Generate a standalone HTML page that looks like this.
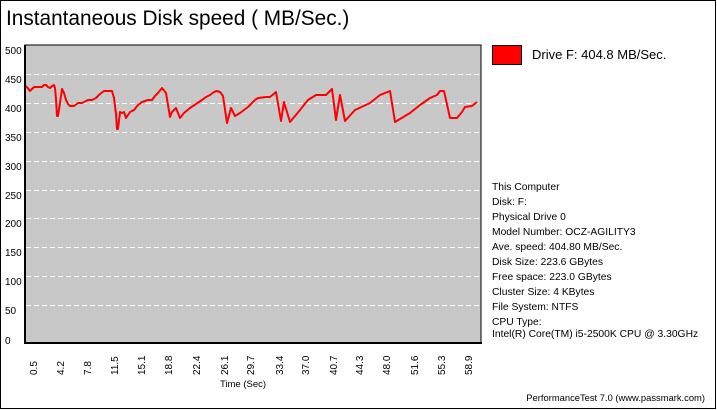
<!DOCTYPE html>
<html><head><meta charset="utf-8"><style>
html,body{margin:0;padding:0;background:#fff;}
svg{display:block;font-family:"Liberation Sans",Arial,sans-serif;}
</style></head><body>
<svg width="717" height="410" viewBox="0 0 717 410" xmlns="http://www.w3.org/2000/svg">
<rect x="0.5" y="0.5" width="715" height="408" fill="#fff" stroke="#000" stroke-width="1"/>
<text x="6" y="25" font-size="20.8" fill="#000">Instantaneous Disk speed ( MB/Sec.)</text>
<rect x="25" y="45" width="456" height="298" fill="#c8c8c8"/>
<g stroke="#fff" stroke-width="1" stroke-dasharray="5,3">
<line x1="26" y1="74.5" x2="481" y2="74.5"/>
<line x1="26" y1="103.5" x2="481" y2="103.5"/>
<line x1="26" y1="132.5" x2="481" y2="132.5"/>
<line x1="26" y1="161.5" x2="481" y2="161.5"/>
<line x1="26" y1="190.5" x2="481" y2="190.5"/>
<line x1="26" y1="218.5" x2="481" y2="218.5"/>
<line x1="26" y1="247.5" x2="481" y2="247.5"/>
<line x1="26" y1="276.5" x2="481" y2="276.5"/>
<line x1="26" y1="305.5" x2="481" y2="305.5"/>
</g>
<polyline fill="none" stroke="#f00" stroke-width="2" stroke-linejoin="round" points="26,86 30,91 34,87 42,87 44,85 46,85 48,87 50,88 52,86 54,85 55,88 56,99 57,116 58,116 60,103 62,89 64,93 66,100 68,104 70,106 74,106 78,103 82,103 86,101 88,100 92,100 96,98 100,94 104,91 112,91 114,98 116,114 117,129 118,129 120,112 122,113 124,112 126,118 130,112 134,110 138,105 142,102 148,100 152,100 155,96 158,93 162,88 166,93 170,117 172,112 176,108 180,118 184,113 190,108 196,104 202,100 206,97 210,95 214,92 217,91 220,92 223,96 227,123 231,108 235,116 240,113 248,107 255,100 258,98 266,97 270,97 276,92 281,121 284,102 290,122 300,110 308,100 316,95 326,95 332,89 336,120 340,95 345,121 355,110 370,103 380,95 390,91 395,122 400,119 410,113 420,105 430,98 437,95 440,91 444,91 450,118 457,118 462,112 465,107 472,106 477,102"/>
<rect x="25" y="45" width="456" height="298" fill="none" stroke="#000" stroke-width="1"/>
<line x1="25" y1="45" x2="25" y2="344" stroke="#000" stroke-width="2"/>
<line x1="24" y1="343" x2="482" y2="343" stroke="#000" stroke-width="2"/>
<g font-size="10" fill="#000">
<text x="5" y="54">500</text>
<text x="5" y="83">450</text>
<text x="5" y="112">400</text>
<text x="5" y="141">350</text>
<text x="5" y="170">300</text>
<text x="5" y="199">250</text>
<text x="5" y="227">200</text>
<text x="5" y="256">150</text>
<text x="5" y="285">100</text>
<text x="5" y="314">50</text>
<text x="5" y="344">0</text>
</g>
<g font-size="10" fill="#000" text-anchor="start">
<text transform="translate(37,375) rotate(-90)">0.5</text>
<text transform="translate(64,375) rotate(-90)">4.2</text>
<text transform="translate(91,375) rotate(-90)">7.8</text>
<text transform="translate(118,375) rotate(-90)">11.5</text>
<text transform="translate(145,375) rotate(-90)">15.1</text>
<text transform="translate(172,375) rotate(-90)">18.8</text>
<text transform="translate(200,375) rotate(-90)">22.4</text>
<text transform="translate(228,375) rotate(-90)">26.1</text>
<text transform="translate(254,375) rotate(-90)">29.7</text>
<text transform="translate(283,375) rotate(-90)">33.4</text>
<text transform="translate(309,375) rotate(-90)">37.0</text>
<text transform="translate(337,375) rotate(-90)">40.7</text>
<text transform="translate(363,375) rotate(-90)">44.3</text>
<text transform="translate(390,375) rotate(-90)">48.0</text>
<text transform="translate(418,375) rotate(-90)">51.6</text>
<text transform="translate(445,375) rotate(-90)">55.3</text>
<text transform="translate(472,375) rotate(-90)">58.9</text>
</g>
<text x="243" y="387" font-size="9.5" text-anchor="middle">Time (Sec)</text>
<rect x="492.5" y="45.5" width="29" height="19" fill="#f00" stroke="#000" stroke-width="1"/>
<text x="532" y="59" font-size="13">Drive F: 404.8 MB/Sec.</text>
<g font-size="10.3" fill="#000">
<text x="492" y="190">This Computer</text>
<text x="492" y="205">Disk: F:</text>
<text x="492" y="220">Physical Drive 0</text>
<text x="492" y="235">Model Number: OCZ-AGILITY3</text>
<text x="492" y="250">Ave. speed: 404.80 MB/Sec.</text>
<text x="492" y="265">Disk Size: 223.6 GBytes</text>
<text x="492" y="280">Free space: 223.0 GBytes</text>
<text x="492" y="295">Cluster Size: 4 KBytes</text>
<text x="492" y="310">File System: NTFS</text>
<text x="492" y="325">CPU Type:</text>
<text x="492" y="337">Intel(R) Core(TM) i5-2500K CPU @ 3.30GHz</text>
<text x="705" y="401" text-anchor="end" font-size="9.4">PerformanceTest 7.0 (www.passmark.com)</text>
</g>
</svg>
</body></html>
